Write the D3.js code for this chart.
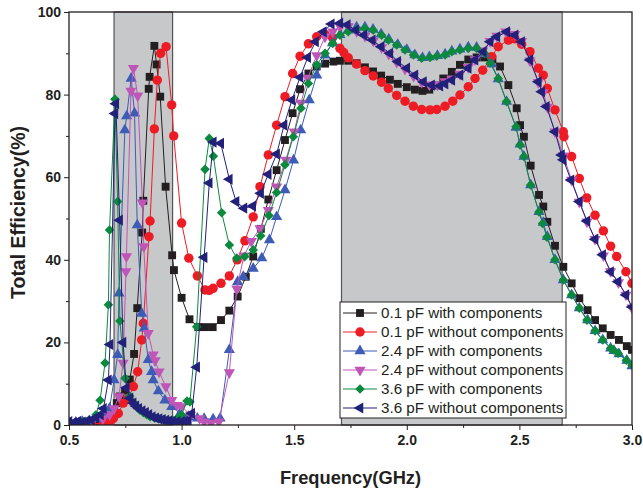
<!DOCTYPE html>
<html>
<head>
<meta charset="utf-8">
<script src="https://cdn.jsdelivr.net/npm/d3@7"></script>
<style>
  body { margin: 0; background: #fff; }
  svg { display: block; font-family: "Liberation Sans", Arial, sans-serif; }
  .axis text { font-size: 14px; font-weight: bold; fill: #231f20; }
  .axis line { stroke: #231f20; }
  .axis-title { font-weight: bold; fill: #231f20; }
  .legend text { font-size: 15.2px; fill: #231f20; }
</style>
</head>
<body>
<svg id="chart"></svg>
<script>
// bands shaded in grey (GHz)
const bands = [[0.7, 0.96], [1.71, 2.69]];
const xTicks = [0.5, 1.0, 1.5, 2.0, 2.5, 3.0];
const xMinorTicks = [0.75, 1.25, 1.75, 2.25, 2.75];
const yTicks = [0, 20, 40, 60, 80, 100];
const yMinorTicks = [10, 30, 50, 70, 90];

const seriesNames = [
  "0.1 pF with components",
  "0.1 pF without components",
  "2.4 pF with components",
  "2.4 pF without components",
  "3.6 pF with components",
  "3.6 pF without components"
];

// [frequency GHz, efficiency %]
const pf01With = [[0.5,0.3],[0.53,0.3],[0.56,0.5],[0.59,0.6],[0.62,0.8],[0.65,1.2],[0.68,2],[0.70,3.5],[0.712,5.3],[0.726,6.9],[0.749,8.3],[0.770,11],[0.789,17.2],[0.803,28.3],[0.825,46.6],[0.830,54.3],[0.854,81.4],[0.858,84.3],[0.879,91.8],[0.889,87.3],[0.905,79.5],[0.929,57.7],[0.958,41.1],[0.966,37.5],[1.0,30.8],[1.035,25.6],[1.074,23.7],[1.104,23.7],[1.138,23.7],[1.175,25.4],[1.212,27.7],[1.249,31.1],[1.285,35.9],[1.318,40.8],[1.352,47.5],[1.385,54.6],[1.422,61.7],[1.459,69],[1.493,75.5],[1.526,81.3],[1.563,85.1],[1.600,86.8],[1.637,87.5],[1.674,88],[1.703,88.2],[1.740,88.2],[1.777,87.6],[1.814,86.6],[1.850,85.6],[1.886,84.6],[1.925,83.6],[1.960,82.6],[2.0,81.8],[2.036,81.2],[2.07,80.9],[2.10,81.2],[2.13,82.2],[2.162,83.9],[2.2,85.5],[2.236,87.2],[2.273,88.5],[2.31,89],[2.345,89],[2.38,88.5],[2.414,86.8],[2.451,82.3],[2.488,76.7],[2.503,72.6],[2.52,69.8],[2.55,62.8],[2.587,55.7],[2.606,52.9],[2.624,49.2],[2.658,43.4],[2.695,38.3],[2.732,34.3],[2.766,30.7],[2.803,27.8],[2.836,25.4],[2.87,23.4],[2.905,21.8],[2.942,20.6],[2.977,19.1],[3.0,18.2]];

const pf01Without = [[0.5,0.2],[0.55,0.2],[0.6,0.3],[0.65,0.4],[0.68,0.8],[0.697,1.6],[0.719,2.8],[0.741,5.3],[0.763,6.5],[0.786,9.3],[0.805,12.9],[0.823,20.6],[0.83,24.6],[0.855,45.6],[0.86,49.4],[0.879,71.7],[0.892,83.5],[0.907,90],[0.931,91.6],[0.956,77.5],[0.965,70],[1.0,48.9],[1.032,40.4],[1.07,36.1],[1.104,32.7],[1.123,32.6],[1.14,33.1],[1.175,34.3],[1.212,36.1],[1.247,40],[1.281,44.6],[1.318,50.4],[1.348,57.7],[1.385,65.4],[1.422,72.6],[1.459,79.5],[1.493,85.1],[1.526,89.3],[1.563,92.3],[1.6,94],[1.637,94.6],[1.67,93.8],[1.703,91.2],[1.72,90.2],[1.74,88.9],[1.777,87.4],[1.814,85.8],[1.851,84.5],[1.888,83],[1.918,81.5],[1.955,79.8],[1.992,78.4],[2.029,77.2],[2.066,76.4],[2.103,76.3],[2.133,76.4],[2.17,77.2],[2.204,78.4],[2.236,79.9],[2.273,81.9],[2.303,83.9],[2.337,85.9],[2.377,89.2],[2.406,91.6],[2.451,93.2],[2.48,93.5],[2.51,92.2],[2.547,90.4],[2.584,86.4],[2.606,84.7],[2.624,81.5],[2.658,76.3],[2.695,71],[2.698,69.8],[2.732,65],[2.766,59.7],[2.799,55],[2.836,50.8],[2.873,47],[2.905,43.3],[2.932,40.8],[2.973,37.1],[3.0,34.3]];

const pf24With = [[0.5,0.5],[0.53,0.6],[0.56,0.8],[0.59,1],[0.62,1.5],[0.65,2.5],[0.68,4],[0.70,10.9],[0.716,17],[0.722,31.9],[0.748,71.4],[0.756,74.8],[0.776,83.9],[0.791,75.5],[0.803,48.4],[0.823,27],[0.834,23.4],[0.852,15.8],[0.867,12.9],[0.874,10.9],[0.897,8.2],[0.926,6],[0.956,4.4],[0.993,2.8],[1.03,2],[1.07,1.6],[1.10,1.5],[1.14,1.4],[1.171,1.6],[1.212,18.2],[1.249,34.7],[1.274,35.9],[1.318,37.9],[1.356,40.4],[1.39,44.8],[1.422,50.4],[1.459,56.9],[1.497,64.1],[1.529,71.4],[1.567,78.7],[1.6,84.7],[1.637,89.5],[1.67,92.5],[1.703,94.5],[1.74,95.6],[1.777,96.3],[1.814,96.3],[1.85,95.8],[1.886,94.6],[1.92,93.4],[1.96,92.1],[2.0,90.9],[2.036,89.6],[2.07,88.9],[2.10,89.1],[2.136,89.4],[2.17,89.8],[2.2,90.5],[2.236,91],[2.273,91.5],[2.31,91.4],[2.345,89.8],[2.377,87.4],[2.406,83.8],[2.443,78.3],[2.485,72],[2.503,68],[2.52,65],[2.55,58.1],[2.587,51.6],[2.606,49],[2.624,45.6],[2.658,40],[2.695,35.1],[2.732,31.5],[2.766,28.3],[2.803,25.4],[2.836,22.8],[2.87,20.6],[2.905,18.6],[2.92,18],[2.942,17.2],[2.977,15.6],[3.0,14.3]];

const pf24Without = [[0.5,0.3],[0.55,0.5],[0.6,0.8],[0.65,1.5],[0.68,2.5],[0.70,4],[0.722,6.9],[0.74,15],[0.753,37.2],[0.755,40.8],[0.775,80.9],[0.786,86.4],[0.805,79.7],[0.826,53.8],[0.832,43.2],[0.852,22.2],[0.874,17],[0.882,15.6],[0.9,12.9],[0.93,9.3],[0.956,6],[0.98,4.8],[1.0,4.5],[1.04,2.4],[1.08,1.6],[1.10,0.8],[1.13,0.4],[1.165,0.8],[1.212,12.7],[1.245,33],[1.277,41],[1.31,44.5],[1.348,47.6],[1.385,52],[1.422,57.7],[1.463,64.2],[1.5,71],[1.53,78],[1.56,84],[1.6,89.5],[1.637,94],[1.671,95.2],[1.703,96.5],[1.74,96.5],[1.777,95.3],[1.814,94.2],[1.851,93],[1.888,91.4],[1.92,89.8],[1.955,87.9],[1.992,86.2],[2.03,84.5],[2.066,83],[2.1,82.4],[2.136,82.4],[2.17,83.2],[2.2,83.8],[2.236,85],[2.273,86.6],[2.303,88.5],[2.337,90.6],[2.37,92.9],[2.4,94.2],[2.44,95.2],[2.48,94.6],[2.51,92.9],[2.547,88.2],[2.584,83],[2.606,80.5],[2.624,77],[2.658,71],[2.695,65.2],[2.732,59.3],[2.766,54],[2.8,49.2],[2.836,45],[2.873,41],[2.905,37.2],[2.94,34.5],[2.973,31.5],[3.0,28.4]];

const pf36With = [[0.5,0.5],[0.53,0.6],[0.56,0.8],[0.59,1.2],[0.62,2.5],[0.638,6],[0.66,15],[0.675,29.1],[0.68,47.2],[0.704,78.9],[0.716,54.1],[0.726,25.2],[0.749,11.3],[0.77,7],[0.785,5.5],[0.80,4.5],[0.815,3.6],[0.83,3],[0.845,2.5],[0.86,2],[0.88,1.7],[0.9,1.5],[0.92,1.3],[0.94,1.2],[0.96,1.2],[0.98,1.5],[1.0,2.5],[1.024,5.8],[1.037,5.6],[1.067,23.8],[1.104,61.9],[1.123,69.4],[1.141,65.1],[1.178,51.4],[1.212,43.6],[1.245,40.4],[1.281,40.8],[1.318,42.4],[1.351,45.8],[1.388,50.7],[1.422,56.3],[1.459,63],[1.496,69.8],[1.53,76.7],[1.563,82.7],[1.6,87.2],[1.637,90],[1.671,92.4],[1.703,94.4],[1.74,95.2],[1.777,95.8],[1.814,96],[1.851,95.6],[1.888,94.4],[1.918,93.2],[1.955,92],[1.992,90.8],[2.03,89.6],[2.066,88.8],[2.103,89],[2.133,89.3],[2.17,89.6],[2.2,90.4],[2.236,90.8],[2.273,91.2],[2.31,91.2],[2.345,90],[2.37,87.6],[2.406,83.9],[2.443,78.3],[2.485,72.2],[2.503,67.8],[2.52,65],[2.55,58.1],[2.587,51.6],[2.603,48.8],[2.622,45.5],[2.658,40],[2.695,35.1],[2.732,31.5],[2.766,28.3],[2.80,25.4],[2.836,22.8],[2.87,20.6],[2.905,18.6],[2.916,18.2],[2.938,17.4],[2.975,15.7],[3.0,14.5]];

const pf36Without = [[0.5,0.8],[0.52,0.6],[0.54,0.9],[0.56,0.7],[0.58,1],[0.60,1.2],[0.62,1.8],[0.64,2.5],[0.653,4],[0.675,10.9],[0.682,19.5],[0.704,75.4],[0.708,77.8],[0.725,49.6],[0.74,20],[0.755,9],[0.771,6.5],[0.785,5.3],[0.797,4.6],[0.81,4],[0.825,3.4],[0.84,3],[0.855,2.5],[0.87,2],[0.885,1.7],[0.9,1.5],[0.915,1.3],[0.93,1.1],[0.945,1],[0.96,0.9],[0.98,0.8],[1.0,0.8],[1.015,0.9],[1.03,1.0],[1.045,2.8],[1.067,14],[1.1,40.6],[1.123,58.6],[1.141,68.5],[1.174,68.2],[1.212,59.5],[1.242,54.1],[1.277,52.5],[1.316,53],[1.351,56.1],[1.385,60.7],[1.422,65.6],[1.455,72.6],[1.49,78.7],[1.526,84.2],[1.56,89],[1.595,92.8],[1.63,95.2],[1.665,97.1],[1.703,97.3],[1.736,96.9],[1.773,95.6],[1.81,94.4],[1.847,93.2],[1.886,91.6],[1.925,90],[1.96,88],[2.0,86.4],[2.036,84.7],[2.074,83.1],[2.11,82.3],[2.147,82.1],[2.17,82.6],[2.2,83.5],[2.236,84.7],[2.273,86.4],[2.303,88.4],[2.34,90.4],[2.37,92.8],[2.4,94],[2.444,95.2],[2.481,94.4],[2.51,92.8],[2.547,88.4],[2.584,83.1],[2.599,80.7],[2.62,77.1],[2.658,71],[2.687,65.4],[2.695,64.2],[2.729,59.3],[2.766,54.1],[2.8,49.4],[2.836,45],[2.87,41.2],[2.905,37.1],[2.938,34.7],[2.973,31.5],[3.0,28.6]];

const seriesData = [pf01With, pf01Without, pf24With, pf24Without, pf36With, pf36Without];
const seriesColors = ["#231f20", "#ed1c24", "#3c5cb6", "#c055b8", "#0b8a3e", "#22217a"];

class EfficiencyChart {
  constructor(_config) {
    this.config = {
      parentElement: _config.parentElement,
      containerWidth: _config.containerWidth || 643,
      containerHeight: _config.containerHeight || 493,
      margin: _config.margin || { top: 12, right: 11, bottom: 68, left: 69 }
    };
    this.initVis();
  }

  initVis() {
    let vis = this;

    vis.svg = d3.select(vis.config.parentElement)
      .attr("width", vis.config.containerWidth)
      .attr("height", vis.config.containerHeight);

    vis.width = vis.config.containerWidth - vis.config.margin.left - vis.config.margin.right;
    vis.height = vis.config.containerHeight - vis.config.margin.top - vis.config.margin.bottom;

    vis.chart = vis.svg.append("g")
      .attr("transform", `translate(${vis.config.margin.left},${vis.config.margin.top})`);

    vis.xScale = d3.scaleLinear().domain([0.5, 3.0]).range([0, vis.width]);
    vis.yScale = d3.scaleLinear().domain([0, 100]).range([vis.height, 0]);

    vis.svg.append("defs").append("clipPath")
      .attr("id", "plot-clip")
      .append("rect")
      .attr("x", 0).attr("y", 0)
      .attr("width", vis.width).attr("height", vis.height);

    // marker shapes, one per series
    const tri = d3.symbol().type(d3.symbolTriangle).size(54);
    vis.markers = [
      { path: d3.symbol().type(d3.symbolSquare).size(62)(), rotate: 0 },
      { path: d3.symbol().type(d3.symbolCircle).size(70)(), rotate: 0 },
      { path: tri(), rotate: 0 },
      { path: tri(), rotate: 180 },
      { path: d3.symbol().type(d3.symbolSquare).size(46)(), rotate: 45 },
      { path: tri(), rotate: -90 }
    ];
  }

  renderVis() {
    let vis = this;

    // grey frequency bands
    vis.chart.append("g").selectAll("rect")
      .data(bands)
      .join("rect")
      .attr("x", d => vis.xScale(d[0]))
      .attr("y", 0)
      .attr("width", d => vis.xScale(d[1]) - vis.xScale(d[0]))
      .attr("height", vis.height)
      .attr("fill", "#c7c8ca")
      .attr("stroke", "#555")
      .attr("stroke-width", 1.2);

    const line = d3.line()
      .x(d => vis.xScale(d[0]))
      .y(d => vis.yScale(d[1]));

    const plot = vis.chart.append("g").attr("clip-path", "url(#plot-clip)");

    seriesData.forEach((data, i) => {
      const g = plot.append("g");
      g.append("path")
        .datum(data)
        .attr("fill", "none")
        .attr("stroke", seriesColors[i])
        .attr("stroke-width", 1)
        .attr("d", line);
      g.selectAll(".pt")
        .data(data)
        .join("path")
        .attr("class", "pt")
        .attr("d", vis.markers[i].path)
        .attr("fill", seriesColors[i])
        .attr("transform", d => `translate(${vis.xScale(d[0])},${vis.yScale(d[1])}) rotate(${vis.markers[i].rotate})`);
    });

    // axes
    const xAxis = d3.axisBottom(vis.xScale).tickValues(xTicks).tickSize(5).tickPadding(5).tickFormat(d3.format(".1f"));
    const xMinor = d3.axisBottom(vis.xScale).tickValues(xMinorTicks).tickSize(3).tickFormat("");
    const yAxis = d3.axisLeft(vis.yScale).tickValues(yTicks).tickSize(5).tickPadding(3).tickFormat(d3.format("d"));
    const yMinor = d3.axisLeft(vis.yScale).tickValues(yMinorTicks).tickSize(3).tickFormat("");

    vis.chart.append("g").attr("class", "axis")
      .attr("transform", `translate(0,${vis.height})`)
      .call(xAxis).call(g => g.select(".domain").remove());
    vis.chart.append("g").attr("class", "axis")
      .attr("transform", `translate(0,${vis.height})`)
      .call(xMinor).call(g => g.select(".domain").remove());
    vis.chart.append("g").attr("class", "axis")
      .call(yAxis).call(g => g.select(".domain").remove());
    vis.chart.append("g").attr("class", "axis")
      .call(yMinor).call(g => g.select(".domain").remove());

    // frame
    vis.chart.append("rect")
      .attr("width", vis.width)
      .attr("height", vis.height)
      .attr("fill", "none")
      .attr("stroke", "#231f20")
      .attr("stroke-width", 1.3);

    // titles
    vis.svg.append("text")
      .attr("class", "axis-title")
      .attr("x", vis.config.margin.left + vis.width / 2)
      .attr("y", 484)
      .attr("text-anchor", "middle")
      .style("font-size", "18.3px")
      .text("Frequency(GHz)");

    vis.svg.append("text")
      .attr("class", "axis-title")
      .attr("transform", `translate(25,${vis.config.margin.top + vis.height / 2 - 6}) rotate(-90)`)
      .attr("text-anchor", "middle")
      .style("font-size", "19.5px")
      .text("Total Efficiency(%)");

    // legend
    const legend = vis.chart.append("g")
      .attr("class", "legend")
      .attr("transform", `translate(${340 - vis.config.margin.left},${302 - vis.config.margin.top})`);

    legend.append("rect")
      .attr("width", 226)
      .attr("height", 116)
      .attr("fill", "#fff")
      .attr("stroke", "#231f20")
      .attr("stroke-width", 1);

    const rows = legend.selectAll(".row")
      .data(seriesNames)
      .join("g")
      .attr("class", "row")
      .attr("transform", (d, i) => `translate(0,${11 + i * 19})`);

    rows.append("line")
      .attr("x1", 3).attr("x2", 37)
      .attr("stroke", (d, i) => seriesColors[i])
      .attr("stroke-width", 1);

    rows.append("path")
      .attr("d", (d, i) => vis.markers[i].path)
      .attr("fill", (d, i) => seriesColors[i])
      .attr("transform", (d, i) => `translate(20,0) rotate(${vis.markers[i].rotate})`);

    rows.append("text")
      .attr("x", 41)
      .attr("dy", "0.35em")
      .text(d => d);
  }
}

const chart = new EfficiencyChart({ parentElement: "#chart" });
chart.renderVis();
</script>
</body>
</html>
